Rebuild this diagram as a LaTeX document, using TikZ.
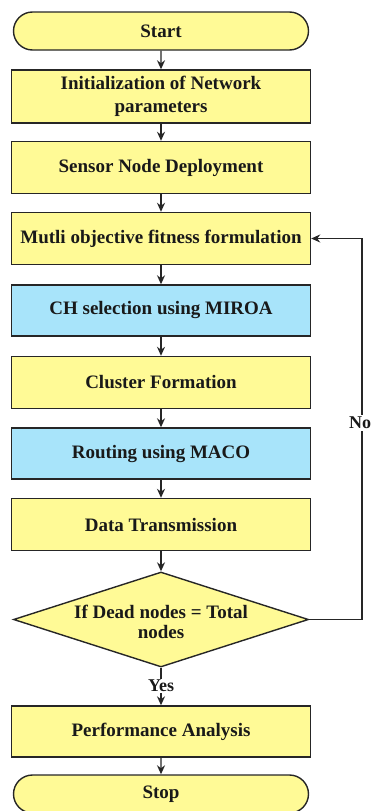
\documentclass[tikz,border=0pt]{standalone}
\usepackage{fontspec}
\setmainfont{Liberation Serif}
\usetikzlibrary{shapes.geometric,shapes.misc,arrows.meta}
\definecolor{boxyellow}{RGB}{255,250,150}
\definecolor{boxblue}{RGB}{168,228,250}
\tikzset{
  base/.style={draw=black!85, line width=1.4pt, minimum width=299pt, inner sep=2pt,
    font=\fontsize{19}{23}\selectfont\bfseries, align=center, text=black!90},
  procbox/.style={base, rectangle, fill=boxyellow, minimum height=52pt},
  algobox/.style={base, rectangle, fill=boxblue, minimum height=51pt},
  term/.style={base, rounded rectangle, fill=boxyellow, minimum height=38pt},
  flow/.style={draw=black!85, line width=1.4pt, -{Stealth[length=9pt,width=8pt]}},
  plain/.style={draw=black!85, line width=1.4pt},
  lbl/.style={font=\fontsize{18}{20}\selectfont\bfseries, text=black!90, inner sep=1pt}
}
\begin{document}
\begin{tikzpicture}[x=1pt,y=-1pt]
\useasboundingbox (0,0) rectangle (370,811);
% main column
\node[term]    (start)   at (161,31)    {Start};
\node[procbox, minimum height=53pt] (init) at (161,96.5) {Initialization of Network\\parameters};
\node[procbox] (deploy)  at (161,167.5) {Sensor Node Deployment};
\node[procbox] (fit)     at (161,238.5) {Mutli objective fitness formulation};
\node[algobox] (ch)      at (161,310.5) {CH selection using MIROA};
\node[procbox] (cluster) at (161,382.5) {Cluster Formation};
\node[algobox] (route)   at (161,453.5) {Routing using MACO};
\node[procbox] (data)    at (161,524.5) {Data Transmission};
% decision
\node[draw=black!85, line width=1.4pt, diamond, fill=boxyellow, inner sep=0pt,
      minimum width=295pt, minimum height=95pt] (dec) at (161,619.5) {};
\node[font=\fontsize{19}{20}\selectfont\bfseries, align=center, text=black!90] (dectext) at (161,622) {If Dead nodes = Total\\nodes};
\node[lbl] (yes) at (161,686) {Yes};
\node[procbox, minimum height=51pt] (perf) at (161,731.5) {Performance Analysis};
\node[term]    (stop)    at (161,794)   {Stop};
% connectors
\draw[flow] (start) -- (init);
\draw[flow] (init) -- (deploy);
\draw[flow] (deploy) -- (fit);
\draw[flow] (fit) -- (ch);
\draw[flow] (ch) -- (cluster);
\draw[flow] (cluster) -- (route);
\draw[flow] (route) -- (data);
\draw[flow] (data) -- (dec);
\draw[plain] (dec) -- (yes);
\draw[flow] (yes) -- (perf);
\draw[flow] (perf) -- (stop);
% loop back
\coordinate (c1) at (362,619.5);
\coordinate (c2) at (362,238.5);
\draw[flow] (dec.east) -- (c1) -- (c2) -- (fit.east);
\node[lbl, fill=white, inner sep=2pt] (no) at (360,423) {No};
\end{tikzpicture}
\end{document}
